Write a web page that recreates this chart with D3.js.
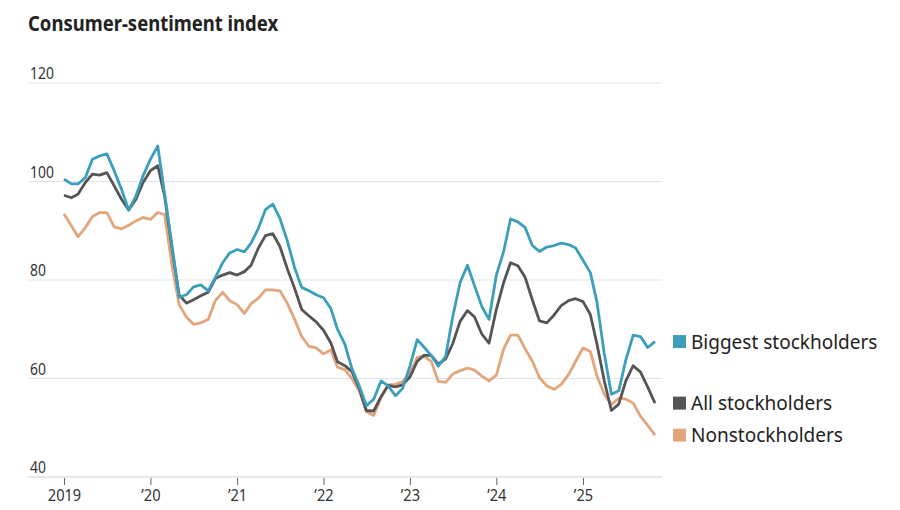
<!DOCTYPE html>
<html>
<head>
<meta charset="utf-8">
<script src="https://cdn.jsdelivr.net/npm/d3@7"></script>
<style>
  body { margin: 0; background: #fff; }
  svg { display: block; font-family: "Noto Sans", sans-serif; }
</style>
</head>
<body>
<svg id="chart" width="900" height="510"></svg>
<script>
// data, monthly from Jan 2019 to Nov 2025
const startMonth = new Date(2019, 0, 1);

const biggest = [
  100.5, 99.5, 99.5, 100.8, 104.5, 105.2, 105.6, 102.2, 98.4, 94.2, 97.1, 101.2,
  104.5, 107.2, 97.5, 87, 76.5, 77, 78.6, 79, 77.8, 80.5, 83.5, 85.5,
  86.2, 85.7, 87.5, 90.5, 94.3, 95.4, 92.5, 88, 82.5, 78.5, 77.8, 77,
  76.4, 74.2, 70, 67, 62, 58.5, 54.5, 55.8, 59.5, 58.5, 56.5, 58,
  62.5, 67.9, 66.4, 64.7, 62.5, 64.5, 72.6, 79.5, 83, 78.8, 74.6, 72,
  81, 85.8, 92.4, 91.8, 90.7, 87, 85.8, 86.7, 87, 87.5, 87.2, 86.5,
  84, 81.5, 75.5, 65, 56.8, 57.5, 63.8, 68.8, 68.5, 66.3, 67.5
];

const allHolders = [
  97.2, 96.7, 97.4, 99.8, 101.5, 101.3, 101.8, 99.1, 96.4, 94.2, 96.4, 99.8,
  102.2, 103.2, 97, 86.5, 77, 75.3, 76, 76.8, 77.5, 80.3, 81, 81.5,
  81, 81.7, 83, 86.5, 89, 89.4, 86.8, 82.3, 78.3, 74, 72.7, 71.5,
  69.8, 67.2, 63.4, 62.6, 61.4, 58, 53.5, 53.4, 56.3, 58.6, 58.3, 58.7,
  60.3, 63.5, 64.7, 64.7, 62.9, 64, 67.1, 71.6, 73.8, 72.5, 69, 67.2,
  74, 79.5, 83.5, 82.9, 80.6, 76, 71.7, 71.3, 72.9, 74.8, 75.8, 76.2,
  75.6, 73, 67, 59.5, 53.5, 54.8, 59.5, 62.6, 61.3, 58.3, 55
];

const nonHolders = [
  93.4, 91, 88.8, 90.6, 92.9, 93.7, 93.7, 90.8, 90.4, 91.1, 92, 92.7,
  92.3, 93.7, 93.3, 83, 75, 72.5, 71, 71.3, 72, 75.8, 77.5, 75.8,
  75, 73.2, 75.2, 76.3, 78, 78, 77.8, 75.3, 72, 68.5, 66.5, 66.2,
  65, 65.8, 62.3, 61.8, 60, 57.5, 53.3, 52.5, 56.2, 58.7, 58.8, 59.4,
  61, 64.3, 64.5, 63.5, 59.4, 59.2, 60.9, 61.6, 62.1, 61.7, 60.5, 59.5,
  60.7, 66, 68.8, 68.8, 66.1, 63.5, 60.2, 58.5, 57.8, 58.8, 60.8, 63.5,
  66.2, 65.5, 60.5, 56.8, 54.7, 56, 55.8, 55, 52.3, 50.5, 48.5
];

const seriesNames = ['Biggest stockholders', 'All stockholders', 'Nonstockholders'];
const seriesColors = ['#3b9fbb', '#555555', '#e3a57c'];
const yTicks = [40, 60, 80, 100, 120];
const xTickYears = [2019, 2020, 2021, 2022, 2023, 2024, 2025];
const xTickLabels = ['2019', '\u201920', '\u201921', '\u201922', '\u201923', '\u201924', '\u201925'];

const svg = d3.select('#chart');

const x = d3.scaleTime()
  .domain([new Date(2019, 0, 1), new Date(2025, 0, 1)])
  .range([64, 583]);

const y = d3.scaleLinear()
  .domain([40, 120])
  .range([477, 83]);

const gridLeft = 28;
const gridRight = 662;

// title (squeezed a bit, the original uses a narrow face)
svg.append('text')
  .attr('transform', 'translate(28,31) scale(0.88,1)')
  .attr('font-size', 21)
  .attr('font-weight', 700)
  .attr('fill', '#222')
  .text('Consumer-sentiment index');

// gridlines + y labels
const grid = svg.append('g');
grid.selectAll('line')
  .data(yTicks)
  .join('line')
  .attr('x1', gridLeft)
  .attr('x2', gridRight)
  .attr('y1', d => y(d))
  .attr('y2', d => y(d))
  .attr('stroke', d => d === 40 ? '#cfcfcf' : '#e3e3e3')
  .attr('stroke-width', 1.2);

grid.selectAll('text')
  .data(yTicks)
  .join('text')
  .attr('transform', d => `translate(30,${y(d) - 4}) scale(0.82,1)`)
  .attr('font-size', 17)
  .attr('fill', '#333')
  .text(d => d);

// x axis
const xAxis = d3.axisBottom(x)
  .tickValues(xTickYears.map(yr => new Date(yr, 0, 1)))
  .tickFormat((d, i) => xTickLabels[i])
  .tickSize(7)
  .tickPadding(4);

const gx = svg.append('g')
  .attr('transform', `translate(0,${y(40) + 1})`)
  .call(xAxis);
gx.select('.domain').remove();
gx.selectAll('line').attr('stroke', '#666');
gx.selectAll('text')
  .attr('font-family', '"Noto Sans", sans-serif')
  .attr('font-size', 17)
  .attr('fill', '#333')
  .attr('transform', 'scale(0.86,1)');

// lines
const dates = biggest.map((d, i) => d3.timeMonth.offset(startMonth, i));
const allSeries = [biggest, allHolders, nonHolders];

const line = d3.line()
  .x((d, i) => x(dates[i]))
  .y(d => y(d));

// draw non first, then all, then biggest on top
const drawOrder = [2, 1, 0];
svg.append('g')
  .selectAll('path')
  .data(drawOrder)
  .join('path')
  .attr('fill', 'none')
  .attr('stroke', k => seriesColors[k])
  .attr('stroke-width', 2.8)
  .attr('stroke-linejoin', 'round')
  .attr('d', k => line(allSeries[k]));

// legend next to last values
const legend = svg.append('g');
const lastIdx = biggest.length - 1;
const legendItems = legend.selectAll('g')
  .data([0, 1, 2])
  .join('g')
  .attr('transform', k => `translate(673,${y(allSeries[k][lastIdx])})`);

legendItems.append('rect')
  .attr('x', 0)
  .attr('y', -6.5)
  .attr('width', 13)
  .attr('height', 13)
  .attr('fill', k => seriesColors[k]);

legendItems.append('text')
  .attr('x', 18)
  .attr('y', 7)
  .attr('font-size', 19)
  .attr('fill', '#222')
  .text(k => seriesNames[k]);
</script>
</body>
</html>
